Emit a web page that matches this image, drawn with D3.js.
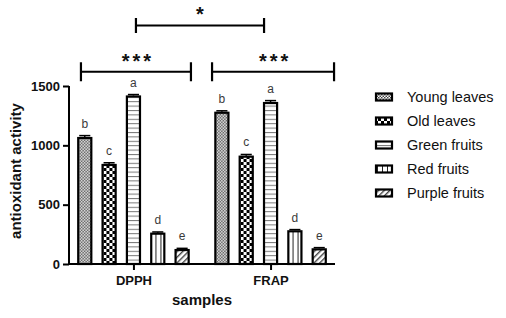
<!DOCTYPE html>
<html><head><meta charset="utf-8">
<script src="https://cdn.jsdelivr.net/npm/d3@7"></script>
<style>
body{margin:0;background:#fff;}
svg{display:block;font-family:Arial,"Liberation Sans",sans-serif;}
</style></head>
<body><svg id="c" width="506" height="318"></svg>
<script>
const groups = ["DPPH","FRAP"];
const series = ["Young leaves","Old leaves","Green fruits","Red fruits","Purple fruits"];
const dpph = [1070, 843, 1420, 264, 126];
const frap = [1283, 913, 1365, 284, 132];
const dpphErr = [12, 10, 8, 6, 6];
const frapErr = [8, 10, 12, 6, 6];
const dpphLetters = ["b","c","a","d","e"];
const frapLetters = ["b","c","a","d","e"];
const yTicks = [0, 500, 1000, 1500];
const brackets = [
  {from:"DPPH", to:"FRAP", level:2010, label:"*", offA:2.5, offB:-6.5, tick:7.5},
  {from:"DPPH", to:"DPPH", level:1620, label:"***", offA:-52.5, offB:57.5, tick:9.5},
  {from:"FRAP", to:"FRAP", level:1620, label:"***", offA:-58.5, offB:63.5, tick:9.5}
];

const svg = d3.select("#c");
const defs = svg.append("defs");
const patIds = ["pYoung","pOld","pGreen","pRed","pPurple"];
(function(){
  let p = defs.append("pattern").attr("id","pYoung").attr("patternUnits","userSpaceOnUse").attr("width",3).attr("height",3);
  p.append("rect").attr("width",3).attr("height",3).attr("fill","#fff");
  p.append("rect").attr("width",1.5).attr("height",1.5).attr("fill","#444");
  p.append("rect").attr("x",1.5).attr("y",1.5).attr("width",1.5).attr("height",1.5).attr("fill","#444");
  p = defs.append("pattern").attr("id","pOld").attr("patternUnits","userSpaceOnUse").attr("width",6).attr("height",6);
  p.append("rect").attr("width",6).attr("height",6).attr("fill","#fff");
  p.append("rect").attr("width",3).attr("height",3).attr("fill","#000");
  p.append("rect").attr("x",3).attr("y",3).attr("width",3).attr("height",3).attr("fill","#000");
  p = defs.append("pattern").attr("id","pGreen").attr("patternUnits","userSpaceOnUse").attr("width",4).attr("height",4.4);
  p.append("rect").attr("width",4).attr("height",4.4).attr("fill","#fff");
  p.append("rect").attr("y",0).attr("width",4).attr("height",1).attr("fill","#777");
  p = defs.append("pattern").attr("id","pRed").attr("patternUnits","userSpaceOnUse").attr("width",5).attr("height",4);
  p.append("rect").attr("width",5).attr("height",4).attr("fill","#fff");
  p.append("rect").attr("x",2).attr("width",1).attr("height",4).attr("fill","#222");
  p = defs.append("pattern").attr("id","pPurple").attr("patternUnits","userSpaceOnUse").attr("width",4).attr("height",4).attr("patternTransform","rotate(45)");
  p.append("rect").attr("width",4).attr("height",4).attr("fill","#fff");
  p.append("rect").attr("width",1.4).attr("height",4).attr("fill","#444");
})();

const y = d3.scaleLinear().domain([0,1500]).range([264,86]);
const x0 = d3.scalePoint().domain(groups).range([69,335]).padding(0.47);
const innerW = x0.step()*0.82;
const x1 = d3.scaleBand().domain(series).range([-innerW/2, innerW/2]).paddingInner(0.38).paddingOuter(0);

const data = groups.map((g,gi)=>({g, vals:(gi===0?dpph:frap), errs:(gi===0?dpphErr:frapErr), letters:(gi===0?dpphLetters:frapLetters)}));

data.forEach(d=>{
  const gG = svg.append("g").attr("transform",`translate(${x0(d.g)},0)`);
  series.forEach((s,i)=>{
    const v = d.vals[i], e = d.errs[i];
    const bx = x1(s), bw = x1.bandwidth();
    gG.append("rect").attr("x",bx+1).attr("y",y(v)+1).attr("width",bw-2).attr("height",y(0)-y(v)-1)
      .attr("fill",`url(#${patIds[i]})`).attr("stroke","#000").attr("stroke-width",2.2);
    gG.append("line").attr("x1",bx+bw/2).attr("x2",bx+bw/2).attr("y1",y(v)).attr("y2",y(v+e)).attr("stroke","#000").attr("stroke-width",1.5);
    gG.append("line").attr("x1",bx+2).attr("x2",bx+bw-2).attr("y1",y(v+e)).attr("y2",y(v+e)).attr("stroke","#000").attr("stroke-width",1.5);
    gG.append("text").attr("x",bx+bw/2).attr("y",y(v+e)-8).attr("text-anchor","middle")
      .attr("font-size",12).attr("fill","#3a3a3a").text(d.letters[i]);
  });
});

const yAxis = d3.axisLeft(y).tickValues(yTicks).tickSize(6).tickPadding(3).tickFormat(d3.format("d"));
const ya = svg.append("g").attr("transform","translate(69,0)").call(yAxis);
ya.select(".domain").attr("stroke","#000").attr("stroke-width",2).attr("d",`M0,${y(0)}V${y(1500)}`);
ya.selectAll(".tick line").attr("stroke","#000").attr("stroke-width",2);
ya.selectAll(".tick text").attr("font-size",13).attr("font-weight","bold").attr("fill","#111").attr("font-family","Arial,'Liberation Sans',sans-serif");

const xAxis = d3.axisBottom(x0).tickSize(6).tickPadding(6);
const xa = svg.append("g").attr("transform",`translate(0,${y(0)})`).call(xAxis);
xa.select(".domain").attr("stroke","#000").attr("stroke-width",2).attr("d","M69,0H335");
xa.selectAll(".tick line").attr("stroke","#000").attr("stroke-width",2);
xa.selectAll(".tick text").attr("font-size",13).attr("font-weight","bold").attr("fill","#111").attr("font-family","Arial,'Liberation Sans',sans-serif");

svg.append("text").attr("transform","translate(21,171) rotate(-90)").attr("text-anchor","middle")
  .attr("font-size",15).attr("font-weight","bold").attr("fill","#111").text("antioxidant activity");
svg.append("text").attr("x",202).attr("y",305).attr("text-anchor","middle")
  .attr("font-size",15).attr("font-weight","bold").attr("fill","#111").text("samples");

brackets.forEach(b=>{
  const xa_ = x0(b.from)+b.offA, xb_ = x0(b.to)+b.offB;
  const yy = y(b.level);
  const g = svg.append("g").attr("stroke","#000").attr("stroke-width",2.2);
  g.append("line").attr("x1",xa_).attr("x2",xb_).attr("y1",yy).attr("y2",yy);
  g.append("line").attr("x1",xa_).attr("x2",xa_).attr("y1",yy-b.tick).attr("y2",yy+b.tick);
  g.append("line").attr("x1",xb_).attr("x2",xb_).attr("y1",yy-b.tick).attr("y2",yy+b.tick);
  svg.append("text").attr("x",(xa_+xb_)/2 + (b.label.length>1?2:0)).attr("y",yy-4).attr("text-anchor","middle")
    .attr("font-size",20).attr("font-weight","bold").attr("letter-spacing",b.label.length>1?3:0)
    .attr("fill","#111").text(b.label);
});

const lg = svg.append("g").attr("transform","translate(375,97)");
series.forEach((s,i)=>{
  const r = lg.append("g").attr("transform",`translate(0,${i*24})`);
  r.append("rect").attr("x",1).attr("y",-3.5).attr("width",16).attr("height",7)
    .attr("fill",`url(#${patIds[i]})`).attr("stroke","#000").attr("stroke-width",2.2);
  r.append("text").attr("x",32).attr("y",5).attr("font-size",14.5).attr("fill","#111").text(s);
});
</script></body></html>
